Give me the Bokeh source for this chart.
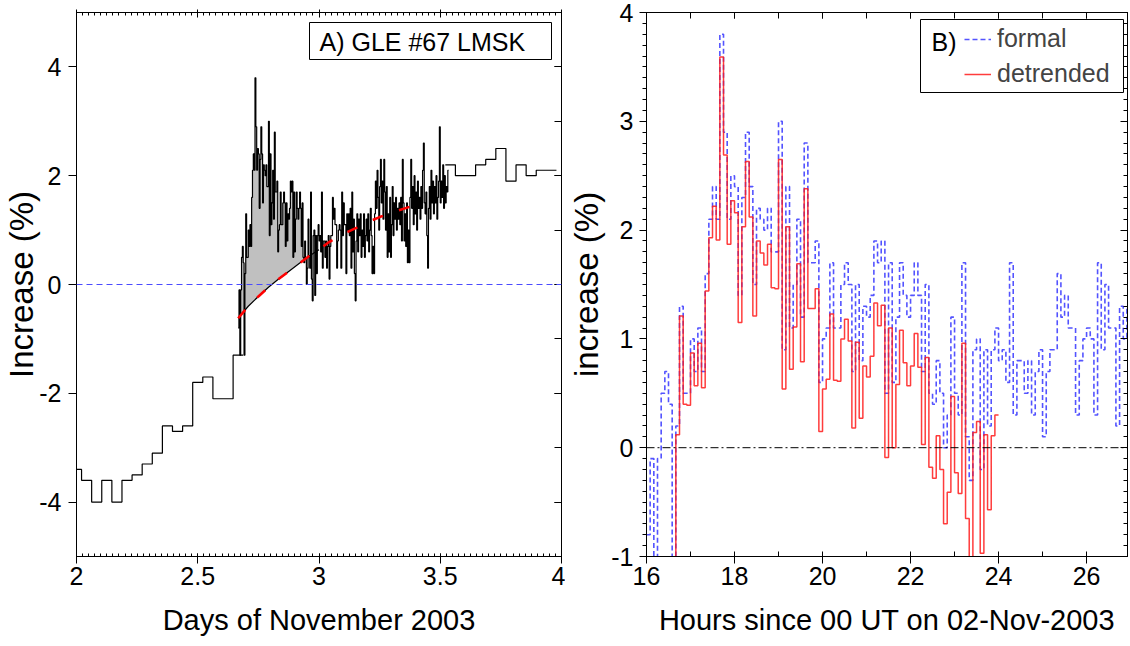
import numpy as np
from bokeh.plotting import figure
from bokeh.layouts import row
from bokeh.models import (Range1d, LinearAxis, SingleIntervalTicker, Span, BoxAnnotation,
                          Label, Legend, LegendItem, NumeralTickFormatter, CustomLabelingPolicy)
from bokeh.embed import file_html
from bokeh.resources import INLINE

FONT = "Liberation Sans"

# ---------------- data ----------------
# hourly values (centre hour since 00 UT 02-Nov-2003)
pre_hours = list(range(0, 17))
pre_values = [-3.4, -3.6, -4.0, -3.6, -4.0, -3.6, -3.5, -3.3, -3.1, -2.6, -2.7, -2.6,
              -1.8, -1.7, -2.1, -2.1, -1.3]
post_hours = list(range(37, 48))
post_values = [2.2, 2.0, 2.0, 2.2, 2.3, 2.5, 1.9, 2.2, 2.0, 2.1, 2.1]

# 5-minute "formal" increase, bins starting at 16:00 UT
formal_start_hour = 16.0
formal = [
    -0.8, -0.1, -1.3, -0.1, 0.5, 0.7, 0.4, -1.3, 0.2, 1.3,
    0.5, 0.5, 1.0, 0.7, 1.1, 0.7, 1.6, 2.1, 2.4, 2.1,
    3.8, 2.9, 2.1, 2.5, 2.4, 1.4, 2.3, 2.9, 2.4, 1.5,
    2.2, 2.1, 2.0, 2.2, 1.8, 1.8, 3.0, 0.9, 2.4, 1.1,
    1.5, 2.1, 1.2, 2.8, 1.7, 1.7, 1.9, 0.6, 1.0, 1.1,
    1.7, 1.1, 1.1, 1.5, 1.7, 1.5, 0.7, 1.5, 0.8, 1.3,
    1.2, 1.4, 1.9, 1.7, 1.9, 0.5, 1.7, 0.6, 1.2, 1.7,
    1.4, 1.2, 1.4, 1.7, 1.4, 0.7, 1.5, 0.5, 0.4, 0.8,
    0.5, 0.0, 0.3, 1.2, 0.5, 0.3, 1.7, 0.1, -0.3, 0.9,
    1.0, -0.2, 0.9, 0.2, 0.9, 1.1, 0.8, 0.9, 0.6, 1.7,
    0.3, 0.8, 0.8, 0.5, 0.8, 0.3, 0.7, 0.9, 0.1, 0.7,
    0.9, 0.9, 1.6, 1.2, 1.4, 1.1, 1.1, 0.3, 0.8, 1.0,
    1.1, 1.0, 0.3, 1.7, 0.9, 1.5, 1.1, 1.1, 0.2, 1.3,
    1.0, 1.3,
    0.9, 1.4, 0.3, 1.7, 0.6, 1.2, 0.2, -0.3, 0.8, 1.3,
    0.6, 1.2, 0.9, 1.3, 0.5, 1.0, 0.7, 1.3, 0.5, 0.9,
    1.2, 0.8, 1.3, 0.6, 1.0, 1.4, 0.9, 0.2, 0.7, 0.2,
    1.3, 1.9, 1.4, 2.1, 1.6, 1.0, 1.8, 2.3, 1.5, 1.9,
    1.2, 2.3, 1.7, 1.0, 1.8, 0.5, 1.3, 0.6, 1.6, 0.5,
    1.1, 1.8, 0.9, 1.5, 1.2, 1.6, 1.0, 1.4, 1.2, 1.5,
    1.1, 1.6, 0.8, 2.3, 1.5, 0.8, 1.3, 0.7, 1.5, 0.4,
    1.0, 0.4, 1.6, 2.3, 1.4, 1.8, 1.1, 2.0, 1.3, 1.7,
    1.0, 1.9, 1.4, 1.6, 1.2, 1.8, 1.4, 2.1, 2.6, 1.5,
    1.3, 1.7, 0.9, 0.3, 1.4, 1.8, 1.2, 2.1, 1.5, 1.9,
    1.3, 1.8, 1.5, 2.0, 1.2, 1.6, 1.9, 2.9, 1.5, 1.9,
    1.6, 2.2, 1.4, 2.0, 1.5, 1.8, 1.7, 2.1,
]

# detrended 5-minute increase, first bin = formal bin 7
detrended_start_bin = 7
detrended = [
    -1.37, 0.12, 1.21, 0.40, 0.39, 0.87, 0.57, 0.96, 0.55, 1.44,
    1.93, 2.22, 1.91, 3.59, 2.69, 1.87, 2.27, 2.16, 1.15, 2.03,
    2.63, 2.12, 1.21, 1.90, 1.79, 1.68, 1.87, 1.47, 1.46, 2.65,
    0.54, 2.03, 0.72, 1.11, 1.69, 0.79, 2.38, 1.28, 1.28, 1.46,
    0.15, 0.54, 0.63, 1.23, 0.62, 0.61, 1.00, 1.18, 0.98, 0.18,
    0.97, 0.27, 0.75, 0.65, 0.84, 1.33, 1.12, 1.31, -0.09, 1.10,
    0.00, 0.58, 1.08, 0.78, 0.57, 0.75, 1.05, 0.74, 0.03, 0.83,
    -0.18, -0.28, 0.11, -0.20, -0.70, -0.41, 0.47, -0.23, -0.42, 0.96,
    -0.65, -1.05, 0.14, 0.24, -0.97, 0.12, -0.57, 0.11, 0.30,
]

# fitted trend (hourly)
trend_hours = list(range(16, 35))
trend_values = [-0.62, -0.40, -0.22, -0.05, 0.10, 0.24, 0.38, 0.52, 0.64, 0.78,
                0.89, 0.98, 1.07, 1.16, 1.24, 1.31, 1.37, 1.43, 1.47]
fill_end_hour = 24

bins_per_hour = 12


def to_day(h):
    return 2.0 + np.asarray(h, dtype=float) / 24.0


def hourly_steps(centers, values):
    c = np.asarray(centers, dtype=float)
    edges = np.append(c - 0.5, c[-1] + 0.5)
    vals = np.append(values, values[-1])
    return edges, vals


def bin_steps(start_hour, values):
    n = len(values)
    edges = start_hour + np.arange(n + 1) / bins_per_hour
    vals = np.append(values, values[-1])
    return edges, vals


pre_x, pre_y = hourly_steps(pre_hours, pre_values)
post_x, post_y = hourly_steps(post_hours, post_values)
f_x, f_y = bin_steps(formal_start_hour, formal)
d_x, d_y = bin_steps(formal_start_hour + detrended_start_bin / bins_per_hour, detrended)

# gray fill polygon: stepped formal (16h..24h) back along trend
nfill = int((fill_end_hour - formal_start_hour) * bins_per_hour)
fe = f_x[:nfill + 1]
poly_x = np.repeat(fe, 2)[1:-1]
poly_y = np.repeat(np.asarray(formal[:nfill], dtype=float), 2)
th = np.asarray(trend_hours, dtype=float)
tv = np.asarray(trend_values, dtype=float)
mask = th <= fill_end_hour
poly_x = np.concatenate([poly_x, th[mask][::-1]])
poly_y = np.concatenate([poly_y, tv[mask][::-1]])

NO_LABELS = "for (const i of indices) { if (i < 0) { yield i } }"


def style_axis(ax, labels=True):
    ax.axis_line_color = "black"
    ax.axis_line_width = 1
    ax.major_tick_line_color = "black"
    ax.minor_tick_line_color = "black"
    ax.major_label_text_font = FONT
    ax.major_label_text_color = "black"
    ax.axis_label_text_font = FONT
    ax.axis_label_text_font_style = "normal"
    ax.axis_label_text_color = "black"
    if labels:
        ax.major_label_text_font_size = "25px"
    else:
        ax.major_label_text_font_size = "1px"
        ax.major_label_standoff = 0
        ax.major_label_policy = CustomLabelingPolicy(code=NO_LABELS)
    return ax


# ---------------- panel A ----------------
p1 = figure(frame_width=485, frame_height=544, x_range=Range1d(2, 4), y_range=Range1d(-5, 5),
            output_backend="svg", toolbar_location=None, x_axis_location=None, y_axis_location=None,
            min_border_left=75, min_border_right=3, min_border_top=12, min_border_bottom=78)
p1.grid.visible = False
p1.outline_line_color = "black"
p1.background_fill_color = "white"
p1.border_fill_color = "white"

xt1 = SingleIntervalTicker(interval=0.5, num_minor_ticks=20)
yt1 = SingleIntervalTicker(interval=2, num_minor_ticks=2)

ax_b = style_axis(LinearAxis(ticker=xt1, formatter=NumeralTickFormatter(format="0.[0]")))
ax_b.axis_label = "Days of November 2003"
ax_b.axis_label_text_font_size = "29px"
ax_b.major_tick_out, ax_b.major_tick_in = 7, 3
ax_b.minor_tick_out, ax_b.minor_tick_in = 0, 3
ax_b.major_label_standoff = 3
ax_b.axis_label_standoff = 16
p1.add_layout(ax_b, "below")

ax_t = style_axis(LinearAxis(ticker=xt1), labels=False)
ax_t.major_tick_out, ax_t.major_tick_in = 3, 5
ax_t.minor_tick_out, ax_t.minor_tick_in = 0, 3
p1.add_layout(ax_t, "above")

ax_l = style_axis(LinearAxis(ticker=yt1, formatter=NumeralTickFormatter(format="0")))
ax_l.axis_label = "Increase (%)"
ax_l.axis_label_text_font_size = "33px"
ax_l.major_tick_out, ax_l.major_tick_in = 8, 0
ax_l.minor_tick_out, ax_l.minor_tick_in = 0, 0
ax_l.major_label_standoff = 7
ax_l.axis_label_standoff = -4
p1.add_layout(ax_l, "left")

ax_r = style_axis(LinearAxis(ticker=yt1), labels=False)
ax_r.major_tick_out, ax_r.major_tick_in = 0, 7
ax_r.minor_tick_out, ax_r.minor_tick_in = 0, 7
p1.add_layout(ax_r, "right")

p1.patch(to_day(poly_x), poly_y, fill_color="#c0c0c0", line_color=None)
p1.add_layout(Span(location=0, dimension="width", line_color="#4b4bff", line_width=1,
                   line_dash="6 4"))
p1.step(to_day(pre_x), pre_y, mode="after", line_color="black", line_width=1.2)
p1.step(to_day(f_x), f_y, mode="after", line_color="black", line_width=1.2)
p1.step(to_day(post_x), post_y, mode="after", line_color="black", line_width=1.2)
p1.line(to_day(th[mask]), tv[mask], line_color="black", line_width=1.2)
p1.line(to_day(th), tv, line_color="red", line_width=2.5, line_dash="11 17")

p1.add_layout(BoxAnnotation(left=233, right=475, top=534, bottom=497,
                            left_units="screen", right_units="screen",
                            top_units="screen", bottom_units="screen",
                            fill_color="white", fill_alpha=1.0,
                            line_color="black", line_width=1, line_alpha=1.0))
p1.add_layout(Label(x=243, y=515, x_units="screen", y_units="screen",
                    text="A) GLE #67 LMSK", text_font=FONT, text_font_size="25px",
                    text_baseline="middle", text_color="black"))

# ---------------- panel B ----------------
p2 = figure(frame_width=481, frame_height=544, x_range=Range1d(16, 26.93), y_range=Range1d(-1, 4),
            output_backend="svg", toolbar_location=None, x_axis_location=None, y_axis_location=None,
            min_border_left=80, min_border_right=6, min_border_top=12, min_border_bottom=78)
p2.grid.visible = False
p2.outline_line_color = "black"
p2.background_fill_color = "white"
p2.border_fill_color = "white"

xt2 = SingleIntervalTicker(interval=2, num_minor_ticks=2)
yt2 = SingleIntervalTicker(interval=1, num_minor_ticks=10)

bx_b = style_axis(LinearAxis(ticker=xt2, formatter=NumeralTickFormatter(format="0")))
bx_b.axis_label = "Hours since 00 UT on 02-Nov-2003"
bx_b.axis_label_text_font_size = "29px"
bx_b.major_tick_out, bx_b.major_tick_in = 7, 0
bx_b.minor_tick_out, bx_b.minor_tick_in = 0, 5
bx_b.major_label_standoff = 3
bx_b.axis_label_standoff = 16
p2.add_layout(bx_b, "below")

bx_t = style_axis(LinearAxis(ticker=xt2), labels=False)
bx_t.major_tick_out, bx_t.major_tick_in = 0, 6
bx_t.minor_tick_out, bx_t.minor_tick_in = 0, 6
p2.add_layout(bx_t, "above")

bx_l = style_axis(LinearAxis(ticker=yt2, formatter=NumeralTickFormatter(format="0")))
bx_l.axis_label = "increase (%)"
bx_l.axis_label_text_font_size = "33px"
bx_l.major_tick_out, bx_l.major_tick_in = 7, 0
bx_l.minor_tick_out, bx_l.minor_tick_in = 4, 0
bx_l.major_label_standoff = 6
bx_l.axis_label_standoff = 3
p2.add_layout(bx_l, "left")

bx_r = style_axis(LinearAxis(ticker=yt2), labels=False)
bx_r.major_tick_out, bx_r.major_tick_in = 0, 7
bx_r.minor_tick_out, bx_r.minor_tick_in = 0, 4
p2.add_layout(bx_r, "right")

r_formal = p2.step(f_x, f_y, mode="after", line_color="#3535ff", line_width=1.6,
                   line_dash="5 3", line_alpha=0.85)
r_detr = p2.step(d_x, d_y, mode="after", line_color="#ff1a1a", line_width=1.5,
                 line_alpha=0.85)
p2.add_layout(Span(location=0, dimension="width", line_color="black", line_width=1,
                   line_dash="8 3 2 3"))

p2.add_layout(BoxAnnotation(left=274, right=477, top=537, bottom=464,
                            left_units="screen", right_units="screen",
                            top_units="screen", bottom_units="screen",
                            fill_color="white", fill_alpha=1.0,
                            line_color="black", line_width=1, line_alpha=1.0))
p2.add_layout(Label(x=285, y=515, x_units="screen", y_units="screen",
                    text="B)", text_font=FONT, text_font_size="25px",
                    text_baseline="middle", text_color="black"))
leg = Legend(items=[LegendItem(label="formal", renderers=[r_formal]),
                    LegendItem(label="detrended", renderers=[r_detr])],
             location=(318, 468), margin=0, padding=0, spacing=6,
             glyph_width=27, glyph_height=28, label_height=28, label_standoff=6,
             label_text_font=FONT, label_text_font_size="25px",
             border_line_alpha=0, background_fill_alpha=0)
p2.add_layout(leg)

layout = row(p1, p2, spacing=0)
open("out.html", "w").write(file_html(layout, INLINE))
